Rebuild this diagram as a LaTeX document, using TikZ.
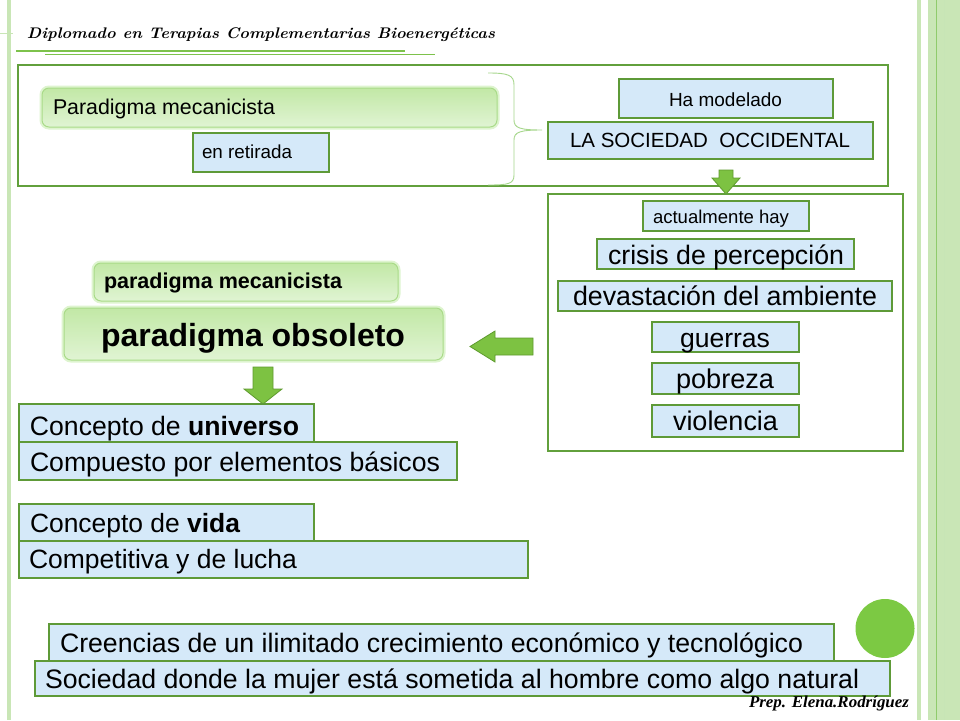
\documentclass[tikz,border=0pt]{standalone}
\usepackage{fontspec}
\usepackage{graphicx}
\newfontfamily\arial{Liberation Sans}
\newfontfamily\tnr{Liberation Serif}
\definecolor{boxblue}{HTML}{D5E9F9}
\definecolor{boxgreen}{HTML}{5E9A38}
\definecolor{framegreen}{HTML}{62A03C}
\definecolor{hdrgreen}{HTML}{7DC24B}
\definecolor{stripgreen}{HTML}{C9E6B6}
\definecolor{stripline}{HTML}{8FCB6C}
\definecolor{glowtop}{HTML}{C2E8A6}
\definecolor{glowbot}{HTML}{E0F4D3}
\definecolor{glowline}{HTML}{A9DB88}
\definecolor{glowout}{HTML}{C9EEB0}
\definecolor{arrowgreen}{HTML}{7DC242}
\definecolor{arrowdark}{HTML}{5E9A2E}
\definecolor{circgreen}{HTML}{7CC943}
\definecolor{bracegreen}{HTML}{A6D78C}
\tikzset{
  bluebox/.style={draw=boxgreen, line width=1.5pt, fill=boxblue, inner sep=0pt, outer sep=0pt},
  framebox/.style={draw=framegreen, line width=1.5pt, inner sep=0pt, outer sep=0pt},
  glowbox/.style={draw=glowline, line width=1pt, rounded corners=7pt, top color=glowtop, bottom color=glowbot,
    inner sep=0pt, outer sep=0pt, preaction={draw=glowout, line width=5pt, opacity=0.6}},
  txt/.style={inner sep=0pt, outer sep=0pt, anchor=base west, text=black},
  blockarrow/.style={fill=arrowgreen, draw=arrowdark, line width=0.8pt, line join=miter},
  strip/.style={fill=stripgreen, draw=none}
}
\newcommand{\mkbox}[6]{\node[#6, minimum width={(#4-#2)*1pt}, minimum height={(#5-#3)*1pt}] (#1) at ({(#2+#4)/2},{(#3+#5)/2}) {};}
\newcommand{\mktext}[5]{\node[txt] (#1) at (#2,#3) {\resizebox{#4pt}{!}{#5}};}
\begin{document}
\begin{tikzpicture}[x=1pt,y=-1pt]
\useasboundingbox (0,0) rectangle (960,720);
\fill[white] (0,0) rectangle (960,720);
% decorative strips
\fill[strip] (6.5,0) rectangle (10.5,720);
\draw[stripgreen, line width=1pt] (0,33.5) -- (13,33.5);
\fill[strip] (917,0) rectangle (921,720);
\fill[strip] (928,0) rectangle (960,720);
\draw[stripline, line width=1pt] (936,0) -- (936,720);
\draw[stripline!50, line width=0.6pt] (944,0) -- (944,720);
% header
\node[txt] (hdr) at (27,38) {\resizebox{468pt}{10.8pt}{\bfseries\itshape\addfontfeatures{FakeBold=1.2,WordSpace=0.75}Diplomado en Terapias Complementarias Bioenergéticas}};
\draw[hdrgreen, line width=2pt] (16,50.5) -- (405,50.5);
\draw[hdrgreen, line width=1.6pt] (45,54.5) -- (435,54.5);
% top frame
\mkbox{topframe}{18}{65}{888}{186}{framebox}
\mkbox{pm1}{42}{88}{497}{127}{glowbox}
\mktext{pm1t}{53}{114}{222}{\arial Paradigma mecanicista}
\mkbox{ret}{193}{133}{329}{172}{bluebox}
\mktext{rett}{202}{158}{90}{\arial en retirada}
\draw[bracegreen, line width=0.9pt] (488,73) .. controls (508,73) and (514,75) .. (514,85) -- (514,120)
  .. controls (514,128) and (520,130) .. (542,130)
  .. controls (520,130) and (514,132) .. (514,140) -- (514,175)
  .. controls (514,184) and (508,185) .. (488,185);
\mkbox{ham}{619}{79}{833}{118}{bluebox}
\mktext{hamt}{669}{106}{113}{\arial Ha modelado}
\mkbox{soc}{548}{122}{873}{159}{bluebox}
\mktext{soct}{570}{147}{280}{\arial LA SOCIEDAD\ \ OCCIDENTAL}
% arrow down to right frame
\draw[blockarrow] (719,170) -- (733,170) -- (733,178) -- (740,178) -- (726,194) -- (712,178) -- (719,178) -- cycle;
% right frame
\mkbox{rframe}{548}{194}{903}{451}{framebox}
\mkbox{act}{643}{201}{809}{231}{bluebox}
\mktext{actt}{653}{223}{136}{\arial actualmente hay}
\mkbox{cri}{597}{239}{854}{269}{bluebox}
\mktext{crit}{608}{264}{236}{\arial crisis de percepción}
\mkbox{dev}{558}{281}{892}{311}{bluebox}
\mktext{devt}{573}{305}{304}{\arial devastación del ambiente}
\mkbox{gue}{652}{322}{799}{352}{bluebox}
\mktext{guet}{680}{347}{90}{\arial guerras}
\mkbox{pob}{652}{363}{799}{394}{bluebox}
\mktext{pobt}{676}{388}{98}{\arial pobreza}
\mkbox{vio}{652}{405}{799}{437}{bluebox}
\mktext{viot}{673}{430}{105}{\arial violencia}
% left arrow
\draw[blockarrow] (533,338) -- (495,338) -- (495,331) -- (470,346.5) -- (495,362) -- (495,355) -- (533,355) -- cycle;
% paradigma obsoleto
\mkbox{pm2}{94}{263}{398}{301}{glowbox}
\mktext{pm2t}{104}{288}{238}{\arial\bfseries paradigma mecanicista}
\mkbox{obs}{64}{308}{443}{360}{glowbox}
\mktext{obst}{101}{346}{304}{\arial\bfseries paradigma obsoleto}
\draw[blockarrow] (253,367) -- (273,367) -- (273,389) -- (282,389) -- (263,404) -- (244,389) -- (253,389) -- cycle;
% concept boxes
\mkbox{cpt}{19}{442}{457}{480}{bluebox}
\mktext{cptt}{30}{471}{410}{\arial Compuesto por elementos básicos}
\mkbox{uni}{19}{404}{314}{442}{bluebox}
\mktext{unit}{30}{435}{269}{\arial Concepto de \bfseries universo}
\mkbox{com}{19}{541}{528}{578}{bluebox}
\mktext{comt}{29}{568}{268}{\arial Competitiva y de lucha}
\mkbox{vid}{19}{504}{314}{541}{bluebox}
\mktext{vidt}{30}{532}{210}{\arial Concepto de \bfseries vida}
\mkbox{cre}{49}{624}{834}{662}{bluebox}
\mktext{cret}{60}{652}{743}{\arial Creencias de un ilimitado crecimiento económico y tecnológico}
\mkbox{soc2}{35}{661}{890}{696}{bluebox}
\mktext{soc2t}{45}{688}{814}{\arial Sociedad donde la mujer está sometida al hombre como algo natural}
% circle
\node[circle, fill=circgreen, minimum size=59pt, inner sep=0pt] (circ) at (885,628.5) {};
% footer
\node[txt] (prep) at (749,707) {\resizebox{160pt}{11.5pt}{\tnr\bfseries\itshape Prep. Elena.Rodríguez}};
\end{tikzpicture}
\end{document}
